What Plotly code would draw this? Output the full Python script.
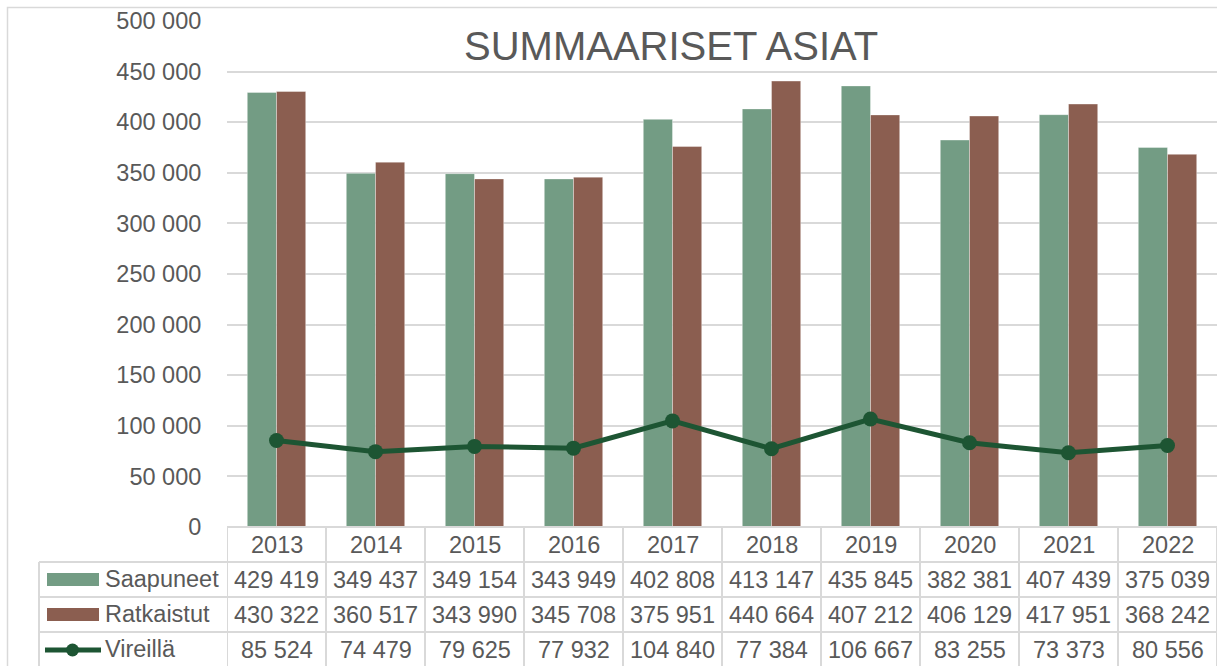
import plotly.graph_objects as go

years = ["2013", "2014", "2015", "2016", "2017", "2018", "2019", "2020", "2021", "2022"]
saapuneet = [429419, 349437, 349154, 343949, 402808, 413147, 435845, 382381, 407439, 375039]
ratkaistut = [430322, 360517, 343990, 345708, 375951, 440664, 407212, 406129, 417951, 368242]
vireilla = [85524, 74479, 79625, 77932, 104840, 77384, 106667, 83255, 73373, 80556]
series_names = ["Saapuneet", "Ratkaistut", "Vireillä"]
tick_values = list(range(0, 500001, 50000))

GREEN = "#739C84"
BROWN = "#8B5E50"
LINE = "#1D5533"
TXT = "#595959"
GRID = "#D9D9D9"
FONT = "Liberation Sans, Arial, sans-serif"
FS = 23.5

W, H = 1217, 666
PL, PR, PT, PB = 227, 1217, 21, 527  # plot area in pixels
L, R, T, B = PL, W - PR, PT, H - PB
plot_h = PB - PT
plot_w = PR - PL


def fmt(v):
    return f"{v:,}".replace(",", " ")


def py(px):
    return (PB - px) / plot_h


def pxx(px):
    return (px - PL) / plot_w


fig = go.Figure()
fig.add_bar(x=years, y=saapuneet, name=series_names[0], marker_color=GREEN,
            marker_line=dict(color="rgba(255,255,255,0.6)", width=0.6))
fig.add_bar(x=years, y=ratkaistut, name=series_names[1], marker_color=BROWN,
            marker_line=dict(color="rgba(255,255,255,0.6)", width=0.6))
fig.add_scatter(x=years, y=vireilla, name=series_names[2], mode="lines+markers",
                line=dict(color=LINE, width=5), marker=dict(color=LINE, size=15))

shapes = []
ann = []

# outer chart border
shapes.append(dict(type="rect", xref="paper", yref="paper", x0=pxx(7.5), x1=pxx(1240),
                   y0=py(700), y1=py(7.5), line=dict(color=GRID, width=1.5), layer="below"))

# table row lines
row_lines = [527, 562, 597, 632]
for i, rl in enumerate(row_lines):
    x0 = pxx(227) if i == 0 else pxx(39)
    shapes.append(dict(type="line", xref="paper", yref="paper", x0=x0, x1=1.0,
                       y0=py(rl), y1=py(rl), line=dict(color=GRID, width=2)))
shapes.append(dict(type="line", xref="paper", yref="paper", x0=pxx(39), x1=pxx(39),
                   y0=py(562), y1=py(670), line=dict(color=GRID, width=2)))
for k in range(len(years) + 1):
    shapes.append(dict(type="line", xref="x", yref="paper", x0=k - 0.5, x1=k - 0.5,
                       y0=py(527), y1=py(670), line=dict(color=GRID, width=2)))

row_centers = [545, 580, 615, 650]
for k, yv in enumerate(years):
    ann.append(dict(x=k, y=py(row_centers[0]), xref="x", yref="paper", text=yv,
                    showarrow=False, yanchor="middle",
                    font=dict(size=FS, color=TXT, family=FONT)))
for r, data in enumerate([saapuneet, ratkaistut, vireilla]):
    for k in range(len(years)):
        ann.append(dict(x=k, y=py(row_centers[r + 1]), xref="x", yref="paper",
                        text=fmt(data[k]), showarrow=False, yanchor="middle",
                        font=dict(size=FS, color=TXT, family=FONT)))
    ann.append(dict(x=pxx(103), y=py(row_centers[r + 1] - 1), xref="paper", yref="paper",
                    text=series_names[r], showarrow=False, xanchor="left", yanchor="middle",
                    font=dict(size=FS, color=TXT, family=FONT)))

# legend keys
shapes.append(dict(type="rect", xref="paper", yref="paper", x0=pxx(47), x1=pxx(99),
                   y0=py(586), y1=py(573), fillcolor=GREEN, line=dict(width=0)))
shapes.append(dict(type="rect", xref="paper", yref="paper", x0=pxx(47), x1=pxx(99),
                   y0=py(621), y1=py(608), fillcolor=BROWN, line=dict(width=0)))
shapes.append(dict(type="line", xref="paper", yref="paper", x0=pxx(45), x1=pxx(101),
                   y0=py(650), y1=py(650), line=dict(color=LINE, width=5)))
shapes.append(dict(type="circle", xref="paper", yref="paper", x0=pxx(66), x1=pxx(79),
                   y0=py(656.5), y1=py(643.5), fillcolor=LINE, line=dict(width=0)))

ann.append(dict(x=pxx(671), y=py(46), xref="paper", yref="paper", text="SUMMAARISET ASIAT",
                showarrow=False, yanchor="middle", xanchor="center",
                font=dict(size=40, color=TXT, family=FONT)))

fig.update_layout(
    width=W, height=H,
    margin=dict(l=L, r=R, t=T, b=B, autoexpand=False),
    paper_bgcolor="white", plot_bgcolor="white",
    barmode="group", bargap=0.41, bargroupgap=0,
    showlegend=False,
    shapes=shapes, annotations=ann,
    font=dict(family=FONT, color=TXT, size=FS),
)
fig.update_xaxes(type="category", range=[-0.5, len(years) - 0.5],
                 showticklabels=False, showgrid=False, showline=False, ticks="")
fig.update_yaxes(range=[0, 500000], tickvals=tick_values,
                 ticktext=[fmt(v) for v in tick_values],
                 showgrid=True, gridcolor=GRID, gridwidth=2, zeroline=False,
                 ticks="outside", ticklen=20, tickcolor="rgba(0,0,0,0)",
                 tickfont=dict(size=FS, color=TXT, family=FONT))

fig.write_html("out.html", config={"displayModeBar": False},
               post_script="document.body.style.margin='0';document.body.style.overflow='hidden';")
